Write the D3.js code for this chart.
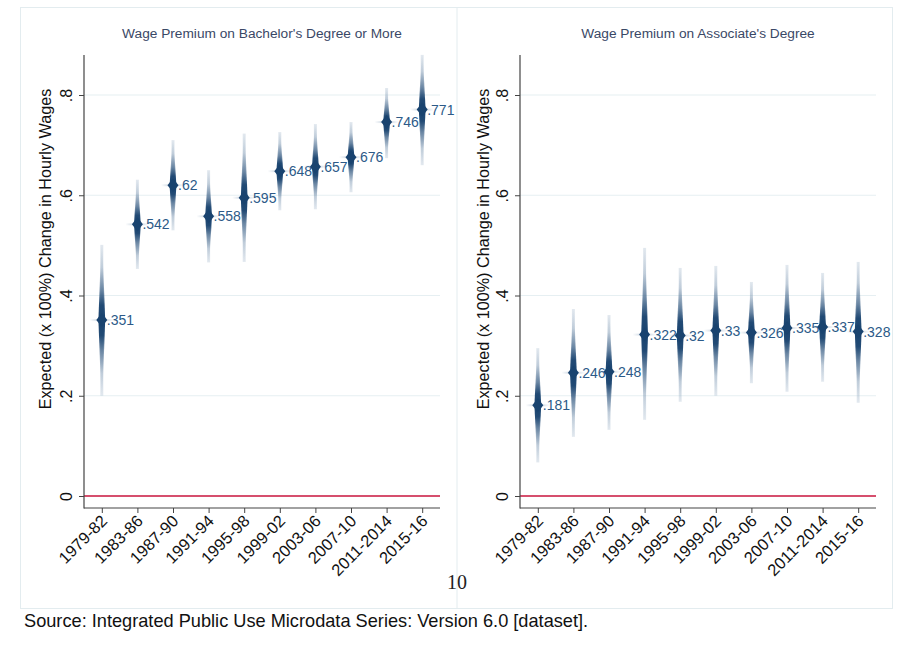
<!DOCTYPE html>
<html>
<head>
<meta charset="utf-8">
<script src="https://cdn.jsdelivr.net/npm/d3@7"></script>
<style>
  html, body { margin: 0; padding: 0; background: #fff; }
  svg { display: block; font-family: "Liberation Sans", Arial, Helvetica, sans-serif; }
</style>
</head>
<body>
<svg id="chart" width="899" height="647"></svg>
<script>
// Survey periods
const periods = ["1979-82", "1983-86", "1987-90", "1991-94", "1995-98",
                 "1999-02", "2003-06", "2007-10", "2011-2014", "2015-16"];

// Bachelor's degree or more: point estimates and 95% interval bounds
const bachelorEst = [0.351, 0.542, 0.620, 0.558, 0.595, 0.648, 0.657, 0.676, 0.746, 0.771];
const bachelorLo  = [0.200, 0.453, 0.530, 0.466, 0.467, 0.570, 0.572, 0.606, 0.674, 0.660];
const bachelorHi  = [0.501, 0.631, 0.710, 0.650, 0.723, 0.726, 0.742, 0.746, 0.814, 0.880];

// Associate's degree: point estimates and 95% interval bounds
const associateEst = [0.181, 0.246, 0.248, 0.322, 0.320, 0.330, 0.326, 0.335, 0.337, 0.328];
const associateLo  = [0.067, 0.118, 0.132, 0.152, 0.188, 0.200, 0.225, 0.208, 0.228, 0.186];
const associateHi  = [0.295, 0.373, 0.361, 0.495, 0.455, 0.459, 0.427, 0.461, 0.445, 0.467];

// Axis ticks and text
const yTicks = [0, 0.2, 0.4, 0.6, 0.8];
const panelTitles = ["Wage Premium on Bachelor's Degree or More", "Wage Premium on Associate's Degree"];
const yTitle = "Expected (x 100%) Change in Hourly Wages";
const sourceNote = "Source: Integrated Public Use Microdata Series: Version 6.0 [dataset].";
const pageNumber = "10";

const svg = d3.select("#chart");
const markColor = "#19436f";
const labelColor = "#2c5a88";
const gridColor = "#e6eff2";
const frameColor = "#e3ecef";

// Shared gradients
const defs = svg.append("defs");
const spindleGrad = defs.append("linearGradient")
  .attr("id", "spindle").attr("x1", 0).attr("y1", 0).attr("x2", 0).attr("y2", 1);
[[0, 0], [0.15, 0.12], [0.3, 0.55], [0.4, 0.95], [0.5, 1], [0.6, 0.95], [0.7, 0.55], [0.85, 0.12], [1, 0]]
  .forEach(([o, a]) => spindleGrad.append("stop").attr("offset", o).attr("stop-color", markColor).attr("stop-opacity", a));
const whiskerGrad = defs.append("linearGradient")
  .attr("id", "whisker").attr("x1", 0).attr("y1", 0).attr("x2", 0).attr("y2", 1);
[[0, 0.3], [0.3, 0.55], [0.5, 0.8], [0.7, 0.55], [1, 0.3]]
  .forEach(([o, a]) => whiskerGrad.append("stop").attr("offset", o).attr("stop-color", "#9fb4c9").attr("stop-opacity", a));
const crossGrad = defs.append("linearGradient")
  .attr("id", "cross").attr("x1", 0).attr("y1", 0).attr("x2", 1).attr("y2", 0);
[[0, 0], [0.5, 0.6], [1, 0]]
  .forEach(([o, a]) => crossGrad.append("stop").attr("offset", o).attr("stop-color", "#8ea6bf").attr("stop-opacity", a));

// Outer frame with divider between the two panels
svg.append("rect").attr("x", 20.5).attr("y", 7.5).attr("width", 872).attr("height", 601)
  .attr("fill", "none").attr("stroke", frameColor).attr("stroke-width", 1);
svg.append("line").attr("x1", 457).attr("x2", 457).attr("y1", 8).attr("y2", 608)
  .attr("stroke", frameColor).attr("stroke-width", 1);

const y = d3.scaleLinear().domain([0, 0.8]).range([496, 95]);
const plotTop = 55, plotBottom = 508;

const panels = [
  { left: 84, right: 440, titleX: 262, axisTitleX: 51, est: bachelorEst, lo: bachelorLo, hi: bachelorHi, title: panelTitles[0] },
  { left: 520, right: 876, titleX: 698, axisTitleX: 489, est: associateEst, lo: associateLo, hi: associateHi, title: panelTitles[1] }
];

const fmt = v => v === 0 ? "0" : d3.format(".3~f")(v).replace(/^0/, "");

panels.forEach(p => {
  const g = svg.append("g");
  const x = d3.scaleLinear().domain([0.5, periods.length + 0.5]).range([p.left, p.right]);

  // Title
  g.append("text").attr("x", p.titleX).attr("y", 38).attr("text-anchor", "middle")
    .attr("font-size", 13.7).attr("fill", "#3a4866").text(p.title);

  // Gridlines
  g.selectAll(".grid").data(yTicks.filter(t => t > 0)).join("line")
    .attr("x1", p.left).attr("x2", p.right)
    .attr("y1", d => y(d)).attr("y2", d => y(d))
    .attr("stroke", gridColor).attr("stroke-width", 1.2);

  // Zero reference line
  g.append("line").attr("x1", p.left).attr("x2", p.right)
    .attr("y1", y(0)).attr("y2", y(0))
    .attr("stroke", "#c8143c").attr("stroke-width", 1.5);

  // Y axis
  const yAxis = g.append("g").attr("transform", `translate(${p.left},0)`)
    .call(d3.axisLeft(y).tickValues(yTicks).tickSize(5).tickFormat(fmt).tickSizeOuter(0));
  yAxis.select(".domain").remove();
  g.append("line").attr("x1", p.left).attr("x2", p.left).attr("y1", plotTop).attr("y2", plotBottom + 0.5)
    .attr("stroke", "#444").attr("stroke-width", 1.2);
  yAxis.selectAll(".tick line").attr("stroke", "#444");
  yAxis.selectAll(".tick text")
    .attr("font-size", 16).attr("fill", "#111")
    .attr("x", 0).attr("y", 0).attr("dy", 0).attr("text-anchor", "middle")
    .attr("transform", "translate(-12,0) rotate(-90)");

  // Y axis title
  g.append("text").attr("transform", `translate(${p.axisTitleX},249) rotate(-90)`)
    .attr("text-anchor", "middle").attr("font-size", 16.2).attr("fill", "#111").text(yTitle);

  // X axis
  const xAxis = g.append("g").attr("transform", `translate(0,${plotBottom})`)
    .call(d3.axisBottom(x).tickValues(d3.range(1, periods.length + 1)).tickSize(5)
      .tickSizeOuter(0).tickFormat(i => periods[i - 1]));
  xAxis.select(".domain").attr("stroke", "#444").attr("stroke-width", 1.2)
    .attr("d", `M${p.left},0H${p.right}`);
  xAxis.selectAll(".tick line").attr("stroke", "#444");
  xAxis.selectAll(".tick text")
    .attr("font-size", 16.5).attr("fill", "#111").attr("text-anchor", "end")
    .attr("x", 0).attr("y", 0).attr("dy", 0)
    .attr("transform", "translate(6,14) rotate(-45)");

  // Estimates with shaded confidence spindles
  const pts = periods.map((d, i) => ({ i: i + 1, est: p.est[i], lo: p.lo[i], hi: p.hi[i] }));
  const mk = g.selectAll(".mark").data(pts).join("g").attr("class", "mark");

  mk.append("rect")
    .attr("x", d => x(d.i) - 1.5).attr("width", 3)
    .attr("y", d => y(d.hi)).attr("height", d => y(d.lo) - y(d.hi))
    .attr("fill", "url(#whisker)");

  mk.append("path")
    .attr("d", d => {
      const cx = x(d.i), top = y(d.hi), bot = y(d.lo), cy = y(d.est);
      const w = 3.4, e = 0.6;
      return `M${cx - e},${top} L${cx + e},${top} L${cx + w},${cy} L${cx + e},${bot} L${cx - e},${bot} L${cx - w},${cy} Z`;
    })
    .attr("fill", "url(#spindle)");

  mk.append("rect")
    .attr("x", d => x(d.i) - 12).attr("width", 24)
    .attr("y", d => y(d.est) - 1).attr("height", 2)
    .attr("fill", "url(#cross)");

  mk.append("path")
    .attr("d", d => {
      const cx = x(d.i), cy = y(d.est);
      return `M${cx},${cy - 7} L${cx + 5.5},${cy} L${cx},${cy + 7} L${cx - 5.5},${cy} Z`;
    })
    .attr("fill", markColor);

  mk.append("text")
    .attr("x", d => x(d.i) + 5).attr("y", d => y(d.est) + 5)
    .attr("font-size", 14).attr("fill", labelColor)
    .text(d => fmt(d.est));
});

// Page number and source note
svg.append("text").attr("x", 457).attr("y", 589).attr("text-anchor", "middle")
  .style("font-family", "'Liberation Serif', 'Times New Roman', serif")
  .attr("font-size", 20).attr("fill", "#222").text(pageNumber);
svg.append("text").attr("x", 24).attr("y", 627)
  .attr("font-size", 18.2).attr("fill", "#111").text(sourceNote);
</script>
</body>
</html>
